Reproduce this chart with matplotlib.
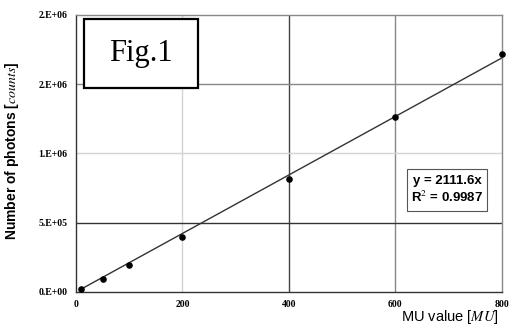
import numpy as np
import matplotlib
matplotlib.use("Agg")
import matplotlib.pyplot as plt
from matplotlib.ticker import FixedLocator
from matplotlib.patches import Rectangle

plt.rcParams['mathtext.fontset'] = 'stix'

mu = [10, 50, 100, 200, 400, 600, 800]
photons = [20000, 96000, 193000, 395000, 818000, 1261000, 1718000]
slope = 2111.6
r2 = 0.9987
xticks = [0, 200, 400, 600, 800]
yticks = [0, 500000, 1000000, 1500000, 2000000]
ylabels = ["0.E+00", "5.E+05", "1.E+06", "2.E+06", "2.E+06"]

fig = plt.figure(figsize=(5.10, 3.31), dpi=100)
ax = fig.add_axes([0.149, 0.118, 0.835, 0.837])

ax.set_xlim(0, 800)
ax.set_ylim(0, 2000000)

# grid lines drawn by hand so each can have its own shade (as in the scan)
vcol = {200: "#d4d4d4", 400: "#444444", 600: "#888888"}
hcol = {500000: "#333333", 1000000: "#d4d4d4", 1500000: "#888888"}
for xv, c in vcol.items():
    ax.axvline(xv, color=c, lw=1.0, zorder=0)
for yv, c in hcol.items():
    ax.axhline(yv, color=c, lw=1.0, zorder=0)

xs = np.array([10, 800])
ax.plot(xs, slope * xs, color="#333333", lw=1.0, zorder=2)
ax.scatter(mu, photons, s=14, color="black", zorder=3, clip_on=False)

ax.xaxis.set_major_locator(FixedLocator(xticks))
ax.yaxis.set_major_locator(FixedLocator(yticks))
ax.set_xticklabels([str(t) for t in xticks], family="Liberation Serif",
                   fontweight="bold", fontsize=7)
ax.set_yticklabels(ylabels, family="Liberation Serif", fontweight="bold", fontsize=7)
ax.tick_params(length=0, pad=6)

for s in ["left", "bottom"]:
    ax.spines[s].set_color("#333333")
for s in ["top", "right"]:
    ax.spines[s].set_color("#888888")
for s in ax.spines.values():
    s.set_linewidth(1.0)

fig.text(0.024, 0.545, r"Number of photons [$\mathit{counts}$]", rotation=90,
         ha="center", va="center", family="Liberation Sans", fontweight="bold",
         fontsize=10)
fig.text(0.977, 0.042, r"MU value [$\mathit{MU}$]", ha="right", va="center",
         family="Liberation Sans", fontsize=10.5)

# Fig.1 label box
ax.add_patch(Rectangle((0.019, 0.736), 0.267, 0.25, transform=ax.transAxes,
                       fc="white", ec="black", lw=1.6, zorder=4))
ax.text(0.152, 0.861, "Fig.1", transform=ax.transAxes, ha="center", va="center",
        family="Liberation Serif", fontsize=22, zorder=5)

# trendline equation box
ax.add_patch(Rectangle((0.777, 0.292), 0.188, 0.152, transform=ax.transAxes,
                       fc="white", ec="#555555", lw=0.8, zorder=4))
ax.text(0.871, 0.368, "y = %.1fx\nR$^2$ = %.4f" % (slope, r2), transform=ax.transAxes,
        ha="center", va="center", family="Liberation Sans", fontweight="bold",
        fontsize=9.5, linespacing=1.3, zorder=5)

fig.savefig("out.png", dpi=100)
